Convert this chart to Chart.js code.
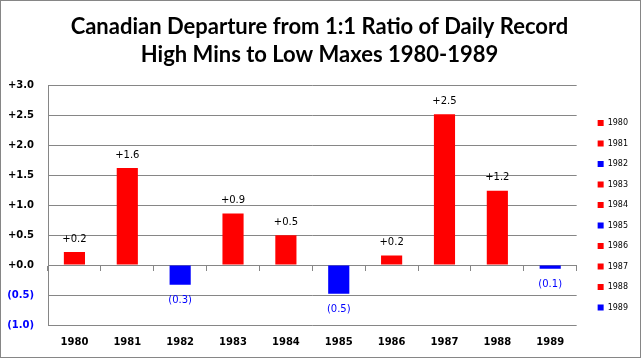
<!DOCTYPE html>
<html>
<head>
<meta charset="utf-8">
<script src="https://cdn.jsdelivr.net/npm/chart.js@4.4.1/dist/chart.umd.min.js"></script>
<style>
  html, body { margin: 0; padding: 0; background: #fff; }
  #wrap { width: 641px; height: 358px; box-sizing: border-box; border: 1px solid #868686; position: relative; }
</style>
</head>
<body>
<div id="wrap"><canvas id="chart"></canvas></div>
<script>
// Dados do gráfico
const titleLines = [
  "Canadian Departure from 1:1 Ratio of Daily Record",
  "High Mins to Low Maxes 1980-1989"
]
const years = ["1980", "1981", "1982", "1983", "1984", "1985", "1986", "1987", "1988", "1989"]
const departures = [0.22, 1.62, -0.33, 0.86, 0.5, -0.48, 0.16, 2.52, 1.24, -0.06]
const yMin = -1
const yMax = 3
const yStep = 0.5

const RED = "#ff0000"
const BLUE = "#0000ff"
const GRID = "#868686"

// Formatar números no estilo +0.0 / (0.0)
function fmt(v) {
  return v < 0 ? "(" + Math.abs(v).toFixed(1) + ")" : "+" + v.toFixed(1)
}

const barColors = departures.map((v) => (v < 0 ? BLUE : RED))

// Plugin para escrever os valores nas barras
const valueLabels = {
  id: "valueLabels",
  afterDatasetsDraw(chart) {
    const ctx = chart.ctx
    const meta = chart.getDatasetMeta(0)
    ctx.save()
    ctx.font = "10px 'DejaVu Sans'"
    ctx.textAlign = "center"
    ctx.textBaseline = "middle"
    meta.data.forEach((bar, i) => {
      const v = departures[i]
      if (v < 0) {
        ctx.fillStyle = BLUE
        ctx.fillText(fmt(v), bar.x, bar.y + 16)
      } else {
        ctx.fillStyle = "#000"
        ctx.fillText(fmt(v), bar.x, bar.y - 13)
      }
    })
    ctx.restore()
  },
}

new Chart(document.getElementById("chart"), {
  type: "bar",
  data: {
    labels: years,
    datasets: [
      {
        data: departures,
        backgroundColor: barColors,
        borderWidth: 0,
        categoryPercentage: 1,
        barPercentage: 0.4,
      },
    ],
  },
  options: {
    responsive: true,
    maintainAspectRatio: false,
    animation: false,
    layout: { padding: { left: 0, right: 2, top: 0, bottom: 0 } },
    plugins: {
      title: {
        display: true,
        text: titleLines,
        color: "#000",
        font: { family: "Lato", size: 22, weight: "bold", lineHeight: 1.26 },
        padding: { top: 12, bottom: 17 },
      },
      legend: {
        position: "right",
        fullSize: false,
        onClick: null,
        // título vazio só para descer os itens da legenda
        title: { display: true, text: " ", font: { size: 10, lineHeight: 1.2 }, padding: 4 },
        labels: {
          boxWidth: 6,
          boxHeight: 6,
          padding: 12.5,
          color: "#000",
          font: { family: "DejaVu Sans", size: 8 },
          generateLabels: () =>
            years.map((y, i) => ({
              text: y,
              fillStyle: barColors[i],
              strokeStyle: barColors[i],
              fontColor: "#000",
              lineWidth: 0,
              hidden: false,
              index: i,
              datasetIndex: 0,
            })),
        },
      },
      tooltip: { enabled: false },
    },
    scales: {
      x: {
        offset: true,
        grid: { display: false, drawTicks: false },
        border: { display: false },
        ticks: {
          color: "#000",
          padding: 11,
          font: { family: "DejaVu Sans", size: 10, weight: "bold" },
        },
        afterFit: (s) => { s.height = 32 },
      },
      // eixo auxiliar para as marcas no zero
      x2: {
        type: "category",
        position: { y: 0 },
        offset: true,
        grid: { offset: true, drawOnChartArea: false, drawTicks: true, tickLength: 5, color: GRID },
        border: { display: true, color: GRID },
        ticks: { display: false },
      },
      y: {
        min: yMin,
        max: yMax,
        ticks: {
          stepSize: yStep,
          padding: 14,
          color: (c) => (c.tick.value < 0 ? BLUE : "#000"),
          font: { family: "DejaVu Sans", size: 10, weight: "bold" },
          callback: (v) => fmt(v),
        },
        grid: { color: GRID, drawTicks: false },
        border: { color: GRID },
        afterFit: (s) => { s.width = 47 },
      },
      // espaço entre o gráfico e a legenda
      gap: {
        type: "linear",
        position: "right",
        grid: { display: false, drawTicks: false },
        border: { display: false },
        ticks: { display: false },
        afterFit: (s) => { s.width = 8.5 },
      },
    },
  },
  plugins: [valueLabels],
})
</script>
</body>
</html>
